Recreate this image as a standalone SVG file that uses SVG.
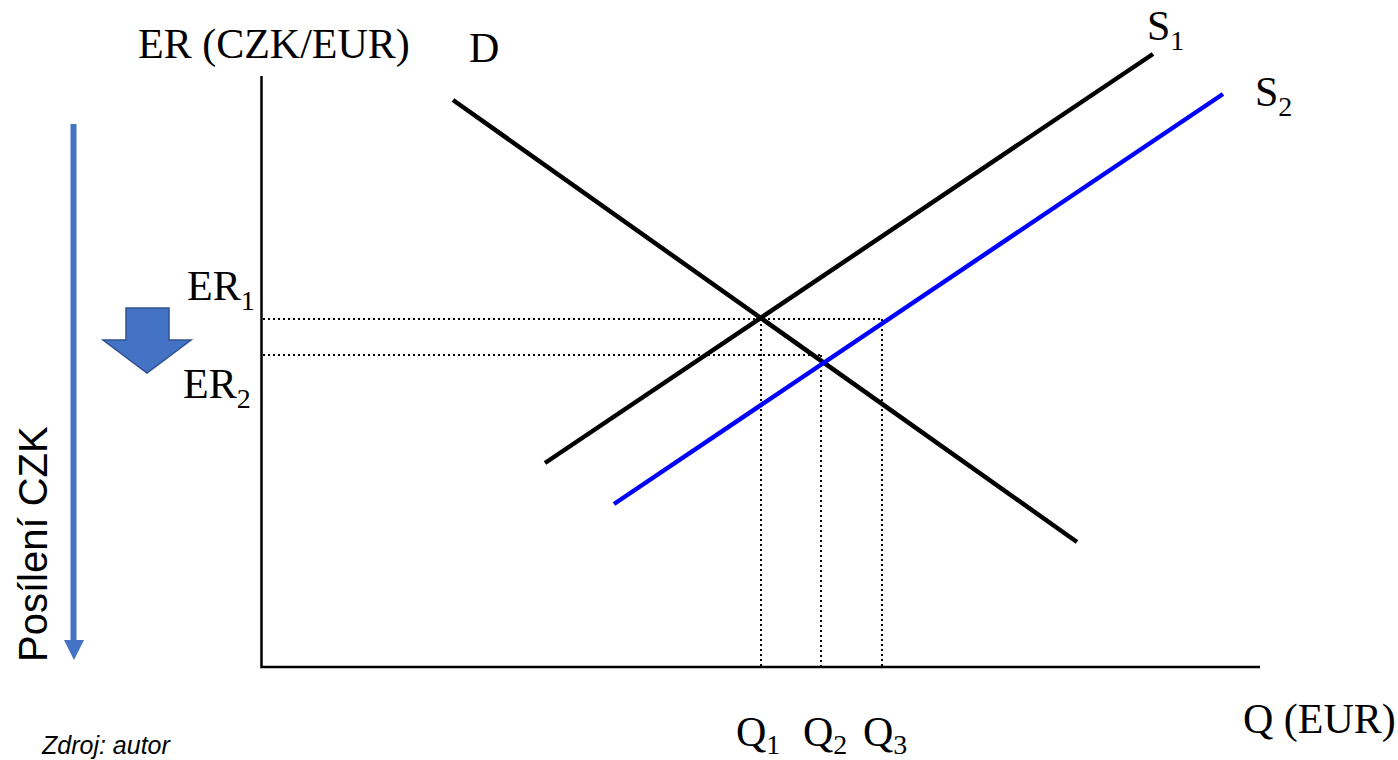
<svg xmlns="http://www.w3.org/2000/svg" width="1398" height="760" viewBox="0 0 1398 760">
<style>
.t{font-family:"Liberation Serif","Times New Roman",serif;font-size:42px;fill:#000}
.sub{font-size:28px}
.curve{stroke-width:4.5;fill:none;stroke-linecap:butt}
.dot{stroke:#000;stroke-width:2;stroke-dasharray:2 3;fill:none}
</style>
<rect width="1398" height="760" fill="#fff"/>
<g id="axes">
<path d="M261.5 76 V667 H1260" stroke="#000" stroke-width="2.5" fill="none"/>
<text class="t" x="138" y="58">ER (CZK/EUR)</text>
<text class="t" x="1243" y="733">Q (EUR)</text>
</g>
<g id="guides">
<line class="dot" x1="263" y1="319" x2="882" y2="319"/>
<line class="dot" x1="263" y1="355" x2="821" y2="355"/>
<line class="dot" x1="761" y1="319" x2="761" y2="666"/>
<line class="dot" x1="821" y1="355" x2="821" y2="666"/>
<line class="dot" x1="882" y1="319" x2="882" y2="666"/>
</g>
<g id="connectors">
<line id="D" class="curve" stroke="#000" x1="453" y1="100" x2="1077" y2="542"/>
<line id="S1" class="curve" stroke="#000" x1="545" y1="463" x2="1153" y2="54"/>
<line id="S2" class="curve" stroke="#0000ff" x1="614" y1="504" x2="1223" y2="94"/>
</g>
<g id="labels">
<text class="t" x="469" y="62">D</text>
<text class="t" x="1147" y="40">S<tspan class="sub" dy="10">1</tspan></text>
<text class="t" x="1255" y="106">S<tspan class="sub" dy="10">2</tspan></text>
<text class="t" x="187" y="300">ER<tspan class="sub" dy="10">1</tspan></text>
<text class="t" x="183" y="398">ER<tspan class="sub" dy="10">2</tspan></text>
<text class="t" x="736" y="746">Q<tspan class="sub" dy="8">1</tspan></text>
<text class="t" x="803" y="746">Q<tspan class="sub" dy="8">2</tspan></text>
<text class="t" x="863" y="746">Q<tspan class="sub" dy="8">3</tspan></text>
</g>
<g id="strengthening">
<line x1="73.5" y1="124" x2="73.5" y2="642" stroke="#4472C4" stroke-width="6"/>
<polygon points="64,640 84,640 74,660" fill="#4472C4"/>
<text transform="translate(47,662) rotate(-90)" font-family="'Liberation Sans',Arial,sans-serif" font-size="40" fill="#000">Posílení CZK</text>
</g>
<g id="down-arrow">
<polygon points="126,308 169,308 169,340 191,340 147,373 103,340 126,340" fill="#4472C4" stroke="#2F528F" stroke-width="1.5"/>
</g>
<text x="42" y="754" font-family="'Liberation Sans',Arial,sans-serif" font-style="italic" font-size="25" fill="#000">Zdroj: autor</text>
</svg>
